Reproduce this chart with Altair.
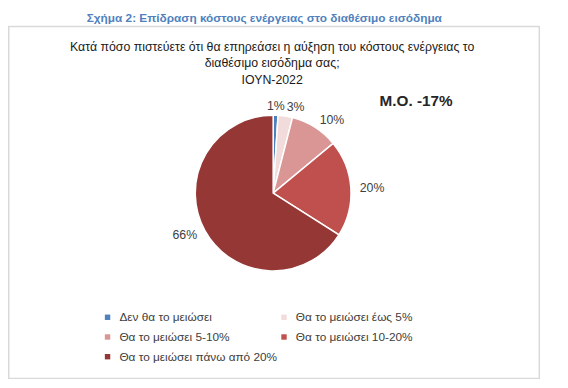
import altair as alt
import pandas as pd

categories = ["Δεν θα το μειώσει", "Θα το μειώσει έως 5%", "Θα το μειώσει 5-10%",
              "Θα το μειώσει 10-20%", "Θα το μειώσει πάνω από 20%"]
values = [1, 3, 10, 20, 66]
labels = ["1%", "3%", "10%", "20%", "66%"]
colors = ["#4F81BD", "#F2DCDB", "#D99694", "#C0504D", "#953735"]

caption = "Σχήμα 2: Επίδραση κόστους ενέργειας στο διαθέσιμο εισόδημα"
title_lines = ["Κατά πόσο πιστεύετε ότι θα επηρεάσει η αύξηση του κόστους ενέργειας το",
               "διαθέσιμο εισόδημα σας;", "ΙΟΥΝ-2022"]
note = "M.O. -17%"

df = pd.DataFrame({"cat": categories, "value": values, "label": labels,
                   "order": list(range(len(values)))})

# legend fills column-major: reorder so it reads row by row like the reference
leg_idx = [0, 2, 4, 1, 3]
leg_domain = [categories[i] for i in leg_idx]
leg_range = [colors[i] for i in leg_idx]

CX, CY, R = 269, 185, 79
SANS = "Liberation Sans, Arial, sans-serif"

base = alt.Chart(df)

pie = base.mark_arc(outerRadius=R, stroke="white", strokeWidth=1.5).encode(
    theta=alt.Theta("value:Q", stack=True),
    order=alt.Order("order:Q"),
    x=alt.value(CX), y=alt.value(CY),
    color=alt.Color("cat:N", scale=alt.Scale(domain=leg_domain, range=leg_range),
                    legend=alt.Legend(title=None, orient="none", legendX=95, legendY=305,
                                      columns=2, columnPadding=-9, rowPadding=8,
                                      symbolType="square", symbolSize=30,
                                      symbolStrokeWidth=0, labelLimit=300,
                                      labelFont=SANS, labelFontSize=12,
                                      labelColor="#404040", labelOffset=6,
                                      padding=0)),
)

lab_base = base.transform_window(
    cum="sum(value)", sort=[alt.SortField("order")]
).transform_calculate(mid="datum.cum - datum.value / 2")

def lab_layer(sel, align):
    return lab_base.transform_filter(
        alt.FieldOneOfPredicate(field="label", oneOf=sel)
    ).mark_text(radius=R + 9, align=align, baseline="middle", font=SANS,
                fontSize=12.5, color="#404040").encode(
        theta=alt.Theta("mid:Q", stack=None,
                        scale=alt.Scale(domain=[0, 100], range=[0, 6.283185307])),
        x=alt.value(CX), y=alt.value(CY),
        text="label:N",
    )

labs_c = lab_layer(["1%"], "center")
labs_l = lab_layer(["3%", "10%", "20%"], "left")
labs_r = lab_layer(["66%"], "right")

box = alt.Chart(pd.DataFrame({"a": [0]})).mark_rect(
    fill=None, stroke="#D9D9D9", strokeWidth=1.5).encode(
    x=alt.value(0.75), x2=alt.value(539), y=alt.value(16), y2=alt.value(373))

cap = alt.Chart(pd.DataFrame({"t": [caption]})).mark_text(
    font=SANS, fontSize=12, fontWeight="bold", color="#4F81BD", align="center",
    baseline="middle").encode(x=alt.value(260), y=alt.value(7), text="t:N")

ttl = alt.Chart(pd.DataFrame({"t": title_lines, "i": [0, 1, 2]})).mark_text(
    font=SANS, fontSize=12.5, color="#1a1a1a", align="center", baseline="middle").encode(
    x=alt.value(268),
    y=alt.Y("i:Q", scale=alt.Scale(domain=[0, 2], range=[37, 70]), axis=None),
    text="t:N")

mo = alt.Chart(pd.DataFrame({"t": [note]})).mark_text(
    font=SANS, fontSize=15.5, fontWeight="bold", color="#262626", align="left",
    baseline="middle").encode(x=alt.value(377), y=alt.value(92), text="t:N")

chart = alt.layer(box, pie, labs_c, labs_l, labs_r, cap, ttl, mo).properties(
    width=560, height=380, padding=0,
    autosize=alt.AutoSizeParams(type="none"),
).configure_view(stroke=None)

chart.save("out.html", embed_options={"renderer": "svg", "actions": False})
